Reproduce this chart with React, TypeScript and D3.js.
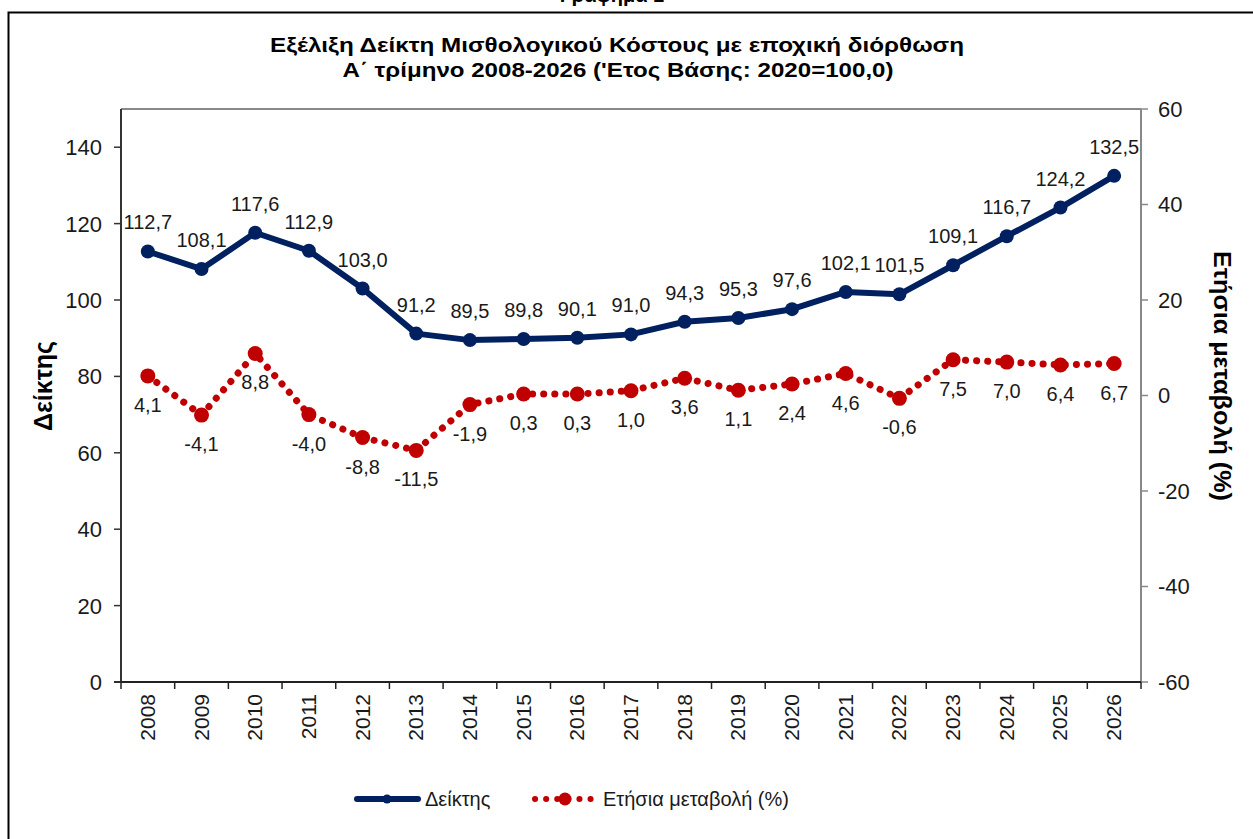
import React from 'react';
import * as d3 from 'd3';

const years = ['2008', '2009', '2010', '2011', '2012', '2013', '2014', '2015', '2016', '2017', '2018', '2019', '2020', '2021', '2022', '2023', '2024', '2025', '2026'];
const indexValues = [112.7, 108.1, 117.6, 112.9, 103.0, 91.2, 89.5, 89.8, 90.1, 91.0, 94.3, 95.3, 97.6, 102.1, 101.5, 109.1, 116.7, 124.2, 132.5];
const changeValues = [4.1, -4.1, 8.8, -4.0, -8.8, -11.5, -1.9, 0.3, 0.3, 1.0, 3.6, 1.1, 2.4, 4.6, -0.6, 7.5, 7.0, 6.4, 6.7];
const leftTicks = [0, 20, 40, 60, 80, 100, 120, 140];
const rightTicks = [-60, -40, -20, 0, 20, 40, 60];

const W = 1253;
const H = 839;
const margin = { top: 109, right: 112, bottom: 157, left: 121 };
const FONT = '"Liberation Sans", Arial, sans-serif';
const BLUE = '#002060';
const RED = '#C00000';
const TXT = '#1a1a1a';

const fmt = (v: number) => v.toFixed(1).replace('.', ',');

export default function App() {
  const x = d3
    .scaleBand()
    .domain(years)
    .range([margin.left, W - margin.right]);
  const yL = d3.scaleLinear().domain([0, 150]).range([H - margin.bottom, margin.top]);
  const yR = d3.scaleLinear().domain([-60, 60]).range([H - margin.bottom, margin.top]);
  const cx = (y: string) => (x(y) as number) + x.bandwidth() / 2;

  const blueLine = d3
    .line<number>()
    .x((d, i) => cx(years[i]))
    .y(d => yL(d));
  const redLine = d3
    .line<number>()
    .x((d, i) => cx(years[i]))
    .y(d => yR(d));

  const x0 = margin.left;
  const x1 = W - margin.right;
  const yTop = margin.top;
  const yBot = H - margin.bottom;

  return (
    <svg width={W} height={H} style={{ position: 'absolute', left: 0, top: 0, background: '#fff' }} fontFamily={FONT}>
      <rect x={0} y={0} width={W} height={H} fill="#fff" />
      {/* heading of the page, cut off at the top as in the source */}
      <text x={612} y={2} textAnchor="middle" fontSize={20} fontWeight="bold">Γράφημα 1</text>
      <rect x={8.5} y={12.5} width={1300} height={900} fill="none" stroke="#000" strokeWidth={2} />

      <text x={617} y={52} textAnchor="middle" fontSize={20} fontWeight="bold" textLength={694} lengthAdjust="spacingAndGlyphs">Εξέλιξη Δείκτη Μισθολογικού Κόστους με εποχική διόρθωση</text>
      <text x={618} y={77} textAnchor="middle" fontSize={20} fontWeight="bold" textLength={551} lengthAdjust="spacingAndGlyphs">Α΄ τρίμηνο 2008-2026 ('Ετος Βάσης: 2020=100,0)</text>

      {/* plot area frame */}
      <line x1={x0} x2={x1} y1={yTop} y2={yTop} stroke="#888" strokeWidth={2} />
      <line x1={x1} x2={x1} y1={yTop} y2={yBot} stroke="#888" strokeWidth={2} />
      <line x1={x0} x2={x0} y1={yTop} y2={yBot} stroke="#333" strokeWidth={2} />
      <line x1={x0 - 7} x2={x1} y1={yBot} y2={yBot} stroke="#222" strokeWidth={2} />

      {/* left axis */}
      {leftTicks.map(t => (
        <g key={'l' + t}>
          <line x1={x0 - 7} x2={x0} y1={yL(t)} y2={yL(t)} stroke="#333" strokeWidth={1.5} />
          <text x={x0 - 19} y={yL(t)} dy="0.36em" textAnchor="end" fontSize={22} fill={TXT}>{t}</text>
        </g>
      ))}
      {/* right axis */}
      {rightTicks.map(t => (
        <g key={'r' + t}>
          <line x1={x1} x2={x1 + 7} y1={yR(t)} y2={yR(t)} stroke="#888" strokeWidth={1.5} />
          <text x={x1 + 17} y={yR(t)} dy="0.36em" textAnchor="start" fontSize={22} fill={TXT}>{t}</text>
        </g>
      ))}
      {/* x axis */}
      {years.map(y => (
        <g key={'x' + y}>
          <line x1={x(y) as number} x2={x(y) as number} y1={yBot} y2={yBot + 7} stroke="#222" strokeWidth={1.5} />
          <text
            transform={`translate(${cx(y) + 7},${yBot + 12}) rotate(-90)`}
            textAnchor="end"
            fontSize={21}
            fill={TXT}
          >
            {y}
          </text>
        </g>
      ))}
      <line x1={x1} x2={x1} y1={yBot} y2={yBot + 7} stroke="#222" strokeWidth={1.5} />

      <text transform={`translate(52,386) rotate(-90)`} textAnchor="middle" fontSize={26} fontWeight="bold" textLength={90} lengthAdjust="spacingAndGlyphs">Δείκτης</text>
      <text transform={`translate(1214,376) rotate(90)`} textAnchor="middle" fontSize={24} fontWeight="bold" textLength={250} lengthAdjust="spacingAndGlyphs">Ετήσια μεταβολή (%)</text>

      {/* red series */}
      <path d={redLine(changeValues) || ''} fill="none" stroke={RED} strokeWidth={7} strokeLinecap="round" strokeDasharray="0.1 11" />
      {changeValues.map((v, i) => (
        <g key={'rp' + i}>
          <circle cx={cx(years[i])} cy={yR(v)} r={7.5} fill={RED} />
          <text x={cx(years[i])} y={yR(v) + 36} textAnchor="middle" fontSize={20} fill={TXT}>{fmt(v)}</text>
        </g>
      ))}

      {/* blue series */}
      <path d={blueLine(indexValues) || ''} fill="none" stroke={BLUE} strokeWidth={6} strokeLinejoin="round" />
      {indexValues.map((v, i) => (
        <g key={'bp' + i}>
          <circle cx={cx(years[i])} cy={yL(v)} r={7} fill={BLUE} />
          <text x={cx(years[i])} y={yL(v) - 22} textAnchor="middle" fontSize={20} fill={TXT}>{fmt(v)}</text>
        </g>
      ))}

      {/* legend */}
      <line x1={357} x2={418} y1={799} y2={799} stroke={BLUE} strokeWidth={6} strokeLinecap="round" />
      <circle cx={387} cy={799} r={4.5} fill={BLUE} />
      <text x={425} y={799} dy="0.36em" fontSize={20} fill={TXT}>Δείκτης</text>
      <line x1={535} x2={593} y1={799} y2={799} stroke={RED} strokeWidth={6} strokeLinecap="round" strokeDasharray="0.1 11" />
      <circle cx={565} cy={799} r={6.5} fill={RED} />
      <text x={603} y={799} dy="0.36em" fontSize={20} fill={TXT}>Ετήσια μεταβολή (%)</text>
    </svg>
  );
}
